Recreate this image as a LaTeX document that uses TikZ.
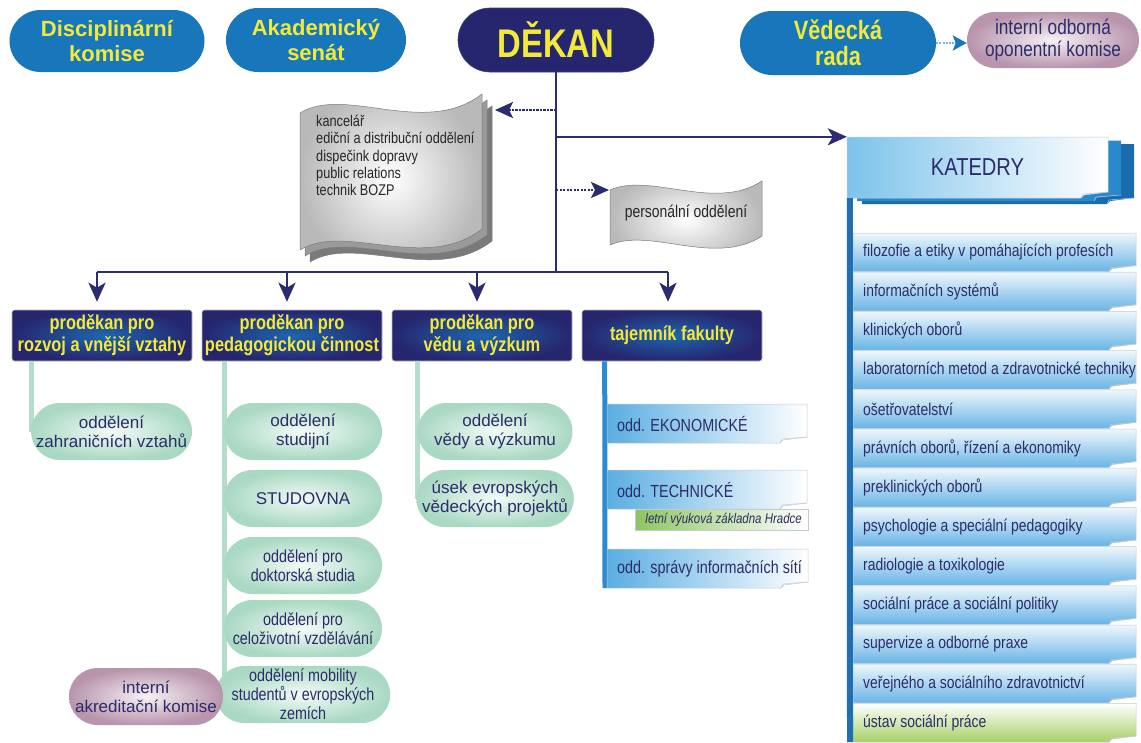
\documentclass[tikz,border=0pt]{standalone}
\usepackage{fontspec}
\setmainfont{Liberation Sans}
\newfontfamily\nar{Liberation Sans}[FakeStretch=0.82]
\usetikzlibrary{arrows.meta,shapes.misc,calc}

\definecolor{pillblue}{HTML}{1877BB}
\definecolor{ylw}{HTML}{F2EA3A}
\definecolor{navy}{HTML}{26266E}
\definecolor{linenavy}{HTML}{2B2B72}
\definecolor{boxcore}{HTML}{1E66AE}
\definecolor{gouter}{HTML}{A9D9C2}
\definecolor{ginner}{HTML}{F3FAF7}
\definecolor{pouter}{HTML}{B895AC}
\definecolor{pinner}{HTML}{F6F1F4}
\definecolor{txtnavy}{HTML}{2C2C6A}
\definecolor{gstemc}{HTML}{B4DECB}
\definecolor{bstemc}{HTML}{2C8ACF}
\definecolor{kstemc}{HTML}{1F6FB2}
\definecolor{bandblue}{HTML}{5AAEE2}
\definecolor{bandtop}{HTML}{EEF7FC}
\definecolor{bandbot}{HTML}{68B4E5}
\definecolor{bandgreen}{HTML}{A6D166}
\definecolor{bandedge}{HTML}{C4CBD0}
\definecolor{leafgreen}{HTML}{8DC560}
\definecolor{katback1}{HTML}{2A89CC}
\definecolor{katback2}{HTML}{1B6CAE}
\definecolor{katleft}{HTML}{7DC3EB}
\definecolor{sheetback1}{HTML}{9A9A9A}
\definecolor{sheetback2}{HTML}{7A7A7A}
\definecolor{sheetedge}{HTML}{7C7C7C}
\definecolor{dotblue}{HTML}{6DB8E8}

% banner with a curled lower right corner
\newcommand\bandshape[5]{%
  \path[#5] (#1,#2) -- (#3,#2) -- (#3,#4-6) -- (#3-24,#4-3) -- (#3-27,#4) -- (#1,#4) -- cycle;
  \draw[bandedge, line width=0.5pt] (#3-27,#4) -- (#3-25,#4-4) -- (#3,#4-6);
}

\tikzset{
  toppill/.style={rounded rectangle, fill=pillblue, text=ylw, inner sep=0pt, align=center,
    font=\bfseries\fontsize{22}{25}\selectfont},
  deanpill/.style={rounded rectangle, fill=navy, draw=navy!70!gray, line width=0.6pt, text=ylw,
    inner sep=0pt, font=\nar\bfseries\fontsize{40}{44}\selectfont},
  headbox/.style={rectangle, rounded corners=2.5pt, draw=gray!55, line width=0.6pt,
    inner color=boxcore, outer color=navy, text=ylw, align=center, inner sep=0pt,
    minimum width=180pt, minimum height=51pt, font=\nar\bfseries\fontsize{20}{22}\selectfont},
  greenpill/.style={rounded rectangle, inner color=ginner, outer color=gouter, text=txtnavy,
    align=center, inner sep=0pt, minimum width=158pt, minimum height=57pt,
    font=\fontsize{17}{19}\selectfont},
  greennarrow/.style={greenpill, font=\nar\fontsize{17.5}{19}\selectfont},
  pinkpill/.style={rounded rectangle, inner color=pinner, outer color=pouter, text=txtnavy,
    align=center, inner sep=0pt},
  bandlabel/.style={inner xsep=10pt, inner ysep=0pt, text=txtnavy, font=\nar\fontsize{17}{19}\selectfont},
  oddband/.style={left color=bandblue, right color=white, draw=bandedge, line width=0.5pt},
  katband/.style={top color=bandtop, bottom color=bandbot, draw=bandedge, line width=0.5pt},
  ustband/.style={top color=white, bottom color=bandgreen, draw=bandedge, line width=0.5pt},
  sheettext/.style={inner sep=0pt, text=black!85, align=left},
  conn/.style={draw=linenavy, line width=2.6pt},
  arr/.style={conn, -{Stealth[length=19pt, width=17pt, inset=5pt]}},
  dotarr/.style={draw=linenavy, line width=2.6pt, dash pattern=on 2.2pt off 1.3pt,
    -{Stealth[length=18pt, width=16pt, inset=4pt]}},
  dotarrlight/.style={draw=dotblue, line width=2.5pt, dash pattern=on 2pt off 1.2pt,
    -{Stealth[length=14pt, width=15pt, inset=3pt, color=pillblue]}},
  gstem/.style={draw=gstemc, line width=5pt},
  bstem/.style={draw=bstemc, line width=5pt},
  kstem/.style={draw=kstemc, line width=6pt},
}

\begin{document}
\begin{tikzpicture}[x=1pt, y=-1pt]
\useasboundingbox (0,0) rectangle (1141,742);
\fill[white] (0,0) rectangle (1141,742);

% ---- stacked document: office services
\path[fill=sheetback2, draw=sheetedge, line width=0.5pt]
  (310,125) .. controls (355,97) and (435,150) .. (492,106) -- (492,241)
  .. controls (435,285) and (355,234) .. (310,262) -- cycle;
\path[fill=sheetback1, draw=sheetedge, line width=0.5pt]
  (305,119) .. controls (350,91) and (430,144) .. (487,100) -- (487,235)
  .. controls (430,279) and (350,228) .. (305,256) -- cycle;
\path[inner color=white, outer color=gray!55, draw=sheetedge, line width=0.5pt]
  (300,113) .. controls (345,85) and (425,138) .. (482,94) -- (482,229)
  .. controls (425,273) and (345,222) .. (300,250) -- cycle;
\node[sheettext, anchor=north west, font=\nar\fontsize{15.5}{17.3}\selectfont] (kanc) at (316,115)
  {kancelář\\ediční a distribuční oddělení\\dispečink dopravy\\public relations\\technik BOZP};
\coordinate (kanctip) at (495,110);

% ---- single document: personnel
\path[inner color=white, outer color=gray!55, draw=sheetedge, line width=0.5pt]
  (610,190) .. controls (650,172) and (715,212) .. (762,181) -- (762,236)
  .. controls (715,267) and (650,227) .. (610,245) -- cycle;
\node[sheettext, font=\nar\fontsize{17}{19}\selectfont] (pers) at (686,213) {personální oddělení};
\coordinate (perstip) at (609,190);

% ---- top row
\node[toppill, minimum width=195pt, minimum height=62pt] (disc) at (107,41) {Disciplinární\\komise};
\node[toppill, minimum width=180pt, minimum height=64pt] (akad) at (316,40) {Akademický\\senát};
\node[deanpill, minimum width=196pt, minimum height=64pt] (dekan) at (556,40) {DĚKAN};
\node[toppill, minimum width=196pt, minimum height=64pt, font=\nar\bfseries\fontsize{26.5}{26}\selectfont] (vedr) at (838,43) {Vědecká\\rada};
\node[pinkpill, minimum width=172pt, minimum height=56pt, font=\nar\fontsize{21}{22}\selectfont] (intob) at (1053,40) {interní odborná\\oponentní komise};

% ---- departments block
\bandshape{862}{144}{1134}{204}{fill=katback2}
\bandshape{857}{140.5}{1121}{201}{fill=katback1}
\bandshape{847}{137}{1108}{198}{left color=katleft, right color=white, draw=bandedge, line width=0.5pt}
\node[font=\nar\fontsize{24.5}{26}\selectfont, text=txtnavy, minimum width=261pt, minimum height=61pt, inner sep=0pt] (katT) at (977.5,167.5) {KATEDRY};

\foreach \lab [count=\i] in {filozofie a etiky v pomáhajících profesích, informačních systémů,
  klinických oborů, laboratorních metod a zdravotnické techniky, ošetřovatelství,
  {právních oborů, řízení a ekonomiky}, preklinických oborů, psychologie a speciální pedagogiky,
  radiologie a toxikologie, sociální práce a sociální politiky, supervize a odborné praxe,
  veřejného a sociálního zdravotnictví}{
  \pgfmathsetmacro\ya{233+39.2*(\i-1)}
  \pgfmathsetmacro\yb{\ya+38.6}
  \bandshape{853}{\ya}{1136}{\yb}{katband}
  \node[bandlabel, anchor=west] (k\i) at (853,{(\ya+\yb)/2}) {\lab};
}
\bandshape{853}{703.4}{1136}{742}{ustband}
\node[bandlabel, anchor=west] (k13) at (853,722.7) {ústav sociální práce};
\coordinate (kbot) at (850,742);
\draw[kstem] ([xshift=3pt]katT.south west) -- (kbot);

% ---- vice-deans and secretary
\node[headbox] (pr1) at (102,335.5) {proděkan pro\\rozvoj a vnější vztahy};
\node[headbox] (pr2) at (292,335.5) {proděkan pro\\pedagogickou činnost};
\node[headbox] (pr3) at (482,335.5) {proděkan pro\\vědu a výzkum};
\node[headbox] (taj) at (672,335.5) {tajemník fakulty};

% ---- secretary's offices
\coordinate (tbot) at (605,588);
\draw[bstem] ([xshift=23pt]taj.south west) -- (tbot);
\bandshape{607}{404}{807}{443}{oddband}
\node[bandlabel, anchor=west, font=\nar\fontsize{17.5}{19}\selectfont] (ekon) at (607,423.5) {odd. EKONOMICKÉ};
\bandshape{607}{470}{807}{509}{oddband}
\node[bandlabel, anchor=west, font=\nar\fontsize{17.5}{19}\selectfont] (tech) at (607,489.5) {odd. TECHNICKÉ};
\path[left color=leafgreen, right color=white, draw=bandedge, line width=0.5pt] (635,509) rectangle (808,530);
\node[inner xsep=6pt, inner ysep=0pt, anchor=east, text=txtnavy, font=\nar\itshape\fontsize{14}{16}\selectfont] (letni) at (808,519.5) {letní výuková základna Hradce};
\bandshape{607}{549}{808}{588}{oddband}
\node[bandlabel, anchor=west, font=\nar\fontsize{17.5}{19}\selectfont] (site) at (607,568.5) {odd. správy informačních sítí};

% ---- green stems and offices
\coordinate (gbot2) at (224,684);
\draw[gstem] (31,361) -- (31,432);
\draw[gstem] (pr2.south west -| gbot2) -- (gbot2);
\draw[gstem] (417,361) -- (417,499);

\node[greenpill, minimum width=159pt] (zah) at (111.5,431.5) {oddělení\\zahraničních vztahů};
\node[greenpill] (stud) at (303,431.5) {oddělení\\studijní};
\node[greenpill] (studov) at (303,498.5) {STUDOVNA};
\node[greennarrow] (dokt) at (303,565.5) {oddělení pro\\doktorská studia};
\node[greennarrow] (celo) at (303,628.5) {oddělení pro\\celoživotní vzdělávání};
\node[greennarrow] (mob) at (303,694.5) {oddělení mobility\\studentů v evropských\\zemích};
\node[pinkpill, minimum width=154pt, minimum height=57pt, font=\fontsize{17}{19}\selectfont] (iak) at (146,696.5) {interní\\akreditační komise};
\node[greenpill, minimum width=155pt] (vv) at (495,431.5) {oddělení\\vědy a výzkumu};
\node[greenpill, minimum width=156pt] (usek) at (495,498.5) {úsek evropských\\vědeckých projektů};

% ---- connectors from the dean
\coordinate (busA) at (97,272);
\coordinate (busB) at (287,272);
\coordinate (busC) at (477,272);
\coordinate (busD) at (668,272);
\draw[conn] (dekan.south) -- (dekan.south |- busA);
\draw[conn] (busA) -- (busD);
\draw[arr, shorten >=8pt] (busA) -- (busA |- pr1.north);
\draw[arr, shorten >=8pt] (busB) -- (busB |- pr2.north);
\draw[arr, shorten >=8pt] (busC) -- (busC |- pr3.north);
\draw[arr, shorten >=8pt] (busD) -- (busD |- taj.north);
\draw[arr] (dekan.south |- katT.north west) -- (katT.north west);
\draw[dotarr] (dekan.south |- kanctip) -- (kanctip);
\draw[dotarr] (dekan.south |- perstip) -- (perstip);
\draw[dotarrlight] (vedr.east) -- (vedr.east -| intob.west);

\end{tikzpicture}
\end{document}
